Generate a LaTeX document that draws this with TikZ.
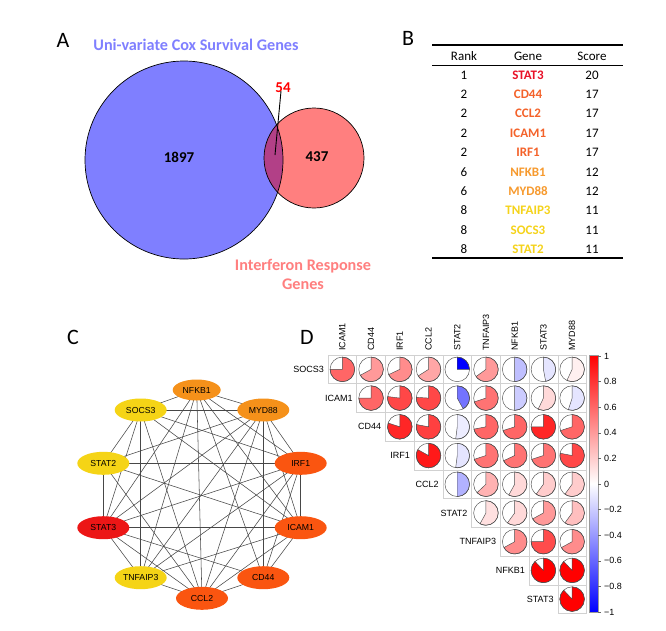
\documentclass[tikz,border=0pt]{standalone}
\usepackage{fontspec}
\setmainfont{Carlito}
\newfontfamily\arialf{Liberation Sans}
\usetikzlibrary{shapes.geometric}
\definecolor{vennblue}{RGB}{127,127,255}
\definecolor{vennred}{RGB}{255,127,127}
\definecolor{vennmix}{RGB}{178,64,135}
\definecolor{gRed}{RGB}{232,17,40}
\definecolor{gOrR}{RGB}{244,98,42}
\definecolor{gOr}{RGB}{247,154,46}
\definecolor{gYe}{RGB}{245,211,26}
\definecolor{nRed}{RGB}{236,22,22}
\definecolor{nOrR}{RGB}{250,85,16}
\definecolor{nOr}{RGB}{245,145,26}
\definecolor{nYe}{RGB}{245,212,22}
\tikzset{
  panellabel/.style={font=\fontsize{22}{24}\selectfont, inner sep=0},
  vennnum/.style={font=\fontsize{15}{17}\selectfont\bfseries, inner sep=0},
  venntitle/.style={font=\fontsize{16.2}{19}\selectfont\bfseries, inner sep=0, align=center},
  tabtxt/.style={font=\fontsize{13}{15}\selectfont, inner sep=0},
  tabgene/.style={font=\fontsize{13}{15}\selectfont\bfseries, inner sep=0},
  gnode/.style={ellipse, minimum width=52pt, minimum height=23pt, inner sep=0, font=\arialf\fontsize{8.7}{10}\selectfont},
  edge/.style={draw=black!72, line width=0.55pt},
  cellgrid/.style={draw=black!18, line width=0.5pt},
  pieline/.style={draw=black!70, line width=0.45pt},
  dlab/.style={font=\arialf\fontsize{9}{10}\selectfont, inner sep=0},
}
\begin{document}
\begin{tikzpicture}[x=1pt,y=-1pt]
\useasboundingbox[fill=white] (0,0) rectangle (666,630);

% ---------- Panel A ----------
\node[panellabel] (labA) at (63,40) {A};
\fill[vennblue] (184,160) circle[radius=99];
\fill[vennred] (314,158) circle[radius=50];
\begin{scope}
  \clip (184,160) circle[radius=99];
  \fill[vennmix] (314,158) circle[radius=50];
\end{scope}
\draw[line width=0.7pt] (184,160) circle[radius=99];
\draw[line width=0.7pt] (314,158) circle[radius=50];
\node[venntitle, text=vennblue] (titleA) at (196,45) {Uni-variate Cox Survival Genes};
\node[vennnum] (n1897) at (179,157) {1897};
\node[vennnum] (n437) at (317,157) {437};
\node[vennnum, text=red] (n54) at (283,88) {54};
\coordinate (p54) at (275,155);
\draw[line width=0.9pt] (n54.south) ++(-2,-2) -- (p54);
\node[venntitle, text=vennred] (titleB) at (303,274) {Interferon Response\\Genes};

% ---------- Panel B ----------
\node[panellabel] (labB) at (408,38) {B};
\coordinate (tl) at (432,45);
\coordinate (tr) at (623,45);
\coordinate (ml) at (432,65);
\coordinate (mr) at (623,65);
\coordinate (bl) at (432,258);
\coordinate (br) at (623,258);
\draw[line width=1.6pt] (tl) -- (tr);
\draw[line width=0.8pt] (ml) -- (mr);
\draw[line width=1.6pt] (bl) -- (br);
\node[tabtxt] (hR) at (464,56) {Rank};
\node[tabtxt] (hG) at (528,56) {Gene};
\node[tabtxt] (hS) at (592,56) {Score};
\foreach \k/\r/\g/\s/\col in {0/1/STAT3/20/gRed, 1/2/CD44/17/gOrR, 2/2/CCL2/17/gOrR, 3/2/ICAM1/17/gOrR, 4/2/IRF1/17/gOrR, 5/6/NFKB1/12/gOr, 6/6/MYD88/12/gOr, 7/8/TNFAIP3/11/gYe, 8/8/SOCS3/11/gYe, 9/8/STAT2/11/gYe}{
  \node[tabtxt] (r\k) at (464,75+\k*19.37) {\r};
  \node[tabgene, text=\col] (g\k) at (528,75+\k*19.37) {\g};
  \node[tabtxt] (s\k) at (592,75+\k*19.37) {\s};
}

% ---------- Panel C ----------
\node[panellabel] (labC) at (73,337) {C};
\coordinate (pNFKB1) at (196.7,390);
\coordinate (pSOCS3) at (140.7,410);
\coordinate (pMYD88) at (263.3,410);
\coordinate (pSTAT2) at (103.3,463.3);
\coordinate (pIRF1) at (300.7,463.3);
\coordinate (pSTAT3) at (103.3,527.7);
\coordinate (pICAM1) at (300.7,527.7);
\coordinate (pTNFAIP3) at (140.7,577.7);
\coordinate (pCD44) at (263.3,577.7);
\coordinate (pCCL2) at (202,598.3);
\foreach \a/\b in {NFKB1/SOCS3, NFKB1/MYD88, NFKB1/STAT3, NFKB1/CCL2, NFKB1/TNFAIP3, NFKB1/ICAM1, NFKB1/IRF1, NFKB1/CD44,
  SOCS3/MYD88, SOCS3/STAT2, SOCS3/STAT3, SOCS3/TNFAIP3, SOCS3/IRF1, SOCS3/ICAM1, SOCS3/CCL2,
  MYD88/STAT2, MYD88/STAT3, MYD88/TNFAIP3, MYD88/CCL2, MYD88/IRF1, MYD88/ICAM1, MYD88/CD44,
  STAT2/IRF1, STAT2/STAT3, STAT2/CCL2, STAT2/ICAM1,
  IRF1/ICAM1, IRF1/CD44, IRF1/CCL2, IRF1/STAT3, IRF1/TNFAIP3,
  STAT3/TNFAIP3, STAT3/CCL2, STAT3/CD44, STAT3/ICAM1,
  ICAM1/CD44, ICAM1/CCL2, ICAM1/TNFAIP3,
  CD44/CCL2, TNFAIP3/CCL2}{
  \draw[edge] (p\a) -- (p\b);
}
\node[gnode, fill=nOr, minimum width=48pt, minimum height=21pt] (NFKB1) at (pNFKB1) {NFKB1};
\node[gnode, fill=nYe] (SOCS3) at (pSOCS3) {SOCS3};
\node[gnode, fill=nOr] (MYD88) at (pMYD88) {MYD88};
\node[gnode, fill=nYe] (STAT2) at (pSTAT2) {STAT2};
\node[gnode, fill=nOrR] (IRF1) at (pIRF1) {IRF1};
\node[gnode, fill=nRed] (STAT3) at (pSTAT3) {STAT3};
\node[gnode, fill=nOrR] (ICAM1) at (pICAM1) {ICAM1};
\node[gnode, fill=nYe] (TNFAIP3) at (pTNFAIP3) {TNFAIP3};
\node[gnode, fill=nOrR] (CD44) at (pCD44) {CD44};
\node[gnode, fill=nOrR] (CCL2) at (pCCL2) {CCL2};

% ---------- Panel D ----------
\node[panellabel] (labD) at (307,337) {D};
\foreach \j/\name in {1/ICAM1,2/CD44,3/IRF1,4/CCL2,5/STAT2,6/TNFAIP3,7/NFKB1,8/STAT3,9/MYD88}{
  \node[dlab, rotate=90, anchor=west] (col\j) at (328+\j*28.72-14.36, 351) {\name};
}
\foreach \i/\name in {1/SOCS3,2/ICAM1,3/CD44,4/IRF1,5/CCL2,6/STAT2,7/TNFAIP3,8/NFKB1,9/STAT3}{
  \node[dlab, anchor=east] (row\i) at (328+\i*28.72-28.72-4, 355+\i*28.72-14.36) {\name};
}
\foreach \i/\j/\f/\c in {
 1/1/0.75/60, 1/2/0.67/40, 1/3/0.68/45, 1/4/0.66/35, 1/5/-0.25/-100, 1/6/0.65/40, 1/7/-0.5/-25, 1/8/-0.47/-10, 1/9/0.57/6,
 2/2/0.75/60, 2/3/0.77/72, 2/4/0.76/72, 2/5/-0.42/-55, 2/6/0.7/55, 2/7/-0.5/-20, 2/8/0.57/15, 2/9/-0.55/-10,
 3/3/0.8/85, 3/4/0.78/75, 3/5/-0.52/-7, 3/6/0.72/60, 3/7/0.7/60, 3/8/0.75/85, 3/9/0.7/60,
 4/4/0.83/90, 4/5/-0.52/-10, 4/6/0.7/55, 4/7/0.68/55, 4/8/0.7/55, 4/9/0.78/72,
 5/5/-0.5/-30, 5/6/0.63/30, 5/7/0.58/15, 5/8/0.6/20, 5/9/0.6/20,
 6/6/0.58/12, 6/7/0.6/15, 6/8/0.67/40, 6/9/0.6/25,
 7/7/0.67/45, 7/8/0.75/70, 7/9/0.67/45,
 8/8/0.88/100, 8/9/0.88/100,
 9/9/0.88/100}{
  \pgfmathsetmacro\cx{328+(\j-0.5)*28.72}
  \pgfmathsetmacro\cy{355+(\i-0.5)*28.72}
  \pgfmathsetmacro\af{abs(\f)*360}
  \pgfmathsetmacro\ac{abs(\c)}
  \ifdim \c pt>0pt \colorlet{pc}{red!\ac!white}\else\colorlet{pc}{blue!\ac!white}\fi
  \draw[cellgrid] (\cx-14.36,\cy-14.36) rectangle ++(28.72,28.72);
  \filldraw[fill=pc, pieline] (\cx,\cy) -- ++(-90:12.3) arc[start angle=-90, delta angle=\af, radius=12.3] -- cycle;
  \draw[pieline] (\cx,\cy) circle[radius=12.3];
}
% colour bar
\shade[top color=red, bottom color=blue, middle color=white] (589,355) rectangle (598,612);
\draw[black!40, line width=0.3pt] (589,355) rectangle (598,612);
\foreach \v/\t in {1/1, 0.8/0.8, 0.6/0.6, 0.4/0.4, 0.2/0.2, 0/0, -0.2/−0.2, -0.4/−0.4, -0.6/−0.6, -0.8/−0.8, -1/−1}{
  \draw[black!60, line width=0.4pt] (598,356+0.5*256-\v*128) -- ++(3,0);
  \node[dlab, anchor=west] (cb\t) at (604,356+0.5*256-\v*128) {\t};
}
\end{tikzpicture}
\end{document}
